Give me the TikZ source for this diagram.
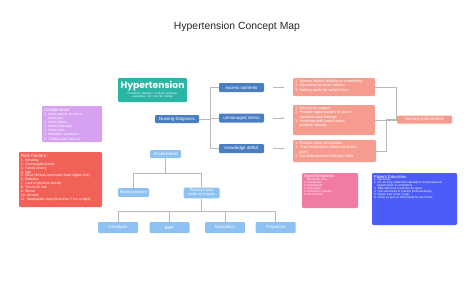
\documentclass[tikz,border=0pt]{standalone}
\usepackage{fontspec}
\setmainfont{Liberation Sans}
\newfontfamily\popfont{Poppins}
\usetikzlibrary{arrows.meta,positioning,calc}
\definecolor{teal1}{HTML}{2AB5A5}
\definecolor{steel}{HTML}{4A7EC2}
\definecolor{salm}{HTML}{F69C8F}
\definecolor{sky}{HTML}{8DC1F2}
\definecolor{lilac}{HTML}{D7A1F2}
\definecolor{coral}{HTML}{F26157}
\definecolor{pinkc}{HTML}{F27BA6}
\definecolor{indigo}{HTML}{4B5DF6}
\definecolor{gline}{HTML}{B8B8B8}
\newcommand{\fs}[2]{\fontsize{#1}{#2}\selectfont}
\newcommand{\ind}{\phantom{0.\ }}
\newcommand{\listbox}[3]{\parbox[c][#2][t]{#1}{\raggedright #3}}

\begin{document}
\begin{tikzpicture}[x=0.75pt, y=-0.75pt,
  box/.style={rounded corners=0.8pt, align=center, text=white, inner sep=1pt,
    font=\fs{3.3}{3.7}},
  dx/.style={box, fill=steel, minimum width=33.75pt, minimum height=6.75pt},
  lab/.style={box, fill=sky, minimum width=30pt, minimum height=8.25pt},
  plan/.style={box, fill=salm, inner sep=1.5pt, align=left, font=\fs{2.9}{3.1}},
  note/.style={rounded corners=0.8pt, text=white, inner sep=1.5pt, align=left},
  link/.style={draw=gline, line width=0.35pt},
  arr/.style={link, -{Latex[length=2pt,width=1.6pt]}}]
\useasboundingbox (0,0) rectangle (474,280);
\node[font=\fs{7.8}{9}, text=black!85] (title) at (237,27) {Hypertension Concept Map};
% core
\node[box, fill=teal1, minimum width=51.75pt, minimum height=18pt, text width=50pt,
  inner sep=0.8pt] (htn) at (152.5,90)
  {{\popfont\bfseries\fs{6.9}{7.4}Hypertension\par}
   {\fs{2.1}{2.4}Persistent elevation of blood pressure\\exceeding 140 over 90 mmHg\par}};
\node[dx, minimum width=33pt, minimum height=6pt] (ndx) at (177,119) {Nursing Diagnosis};
\node[dx] (exc) at (241.5,87.5) {excess nutrients};
\node[dx, below=15.75pt of exc] (stress) {unmanaged stress};
\node[dx, below=15.75pt of stress] (know) {knowledge deficit};
% interventions
\node[plan] (p1) at (334,87) {\listbox{58.5pt}{10.5pt}{%
  1. Assess factors leading to overeating\\
  2. Educating on food choices\\
  3. Setting goals for weight loss}};
\node[plan] (p2) at (334,120) {\listbox{58.5pt}{19.5pt}{%
  1. Emotional support\\
  2. Provide opportunities to share\\
  \ind concerns and feelings\\
  3. Assisting with constructive\\
  \ind problem solving}};
\node[plan] (p3) at (334.5,151) {\listbox{59.25pt}{13.5pt}{%
  1. Provide clear information\\
  2. Give information sheet and to the\\
  \ind point\\
  3. Consider patient's literacy skills}};
\node[box, fill=salm, minimum width=41.25pt, minimum height=6pt] (interv) at (424.5,119.5)
  {Nursing Intervention};
% side notes
\node[note, fill=lilac, font=\fs{2.6}{3.1}] (comp) at (72,124) {\listbox{42pt}{24pt}{%
  {\fs{3.3}{3.6}Complication\par}
  1. Heart attack, stroke or\\
  \ind aneurysm\\
  2. Heart failure\\
  3. Kidney damage\\
  4. Vision loss\\
  5. Metabolic syndrome\\
  6. Trouble with memory}};
\node[note, fill=coral, font=\fs{2.6}{2.95}] (risk) at (60.5,179.5) {\listbox{59.25pt}{38.25pt}{%
  {\fs{3.4}{3.8}Risk Factors :\par}
  1. Smoking\\
  2. Overweight/obesity\\
  3. Family history\\
  4. Age\\
  5. Race (African americans have higher risk)\\
  6. Diabetes\\
  7. Lack of physical activity\\
  8. Too much salt\\
  9. Stress\\
  10. Alcohol\\
  11. Inadequate sleep (less than 7 hrs a night)}};
\node[note, fill=pinkc, font=\fs{2.1}{2.2}] (signs) at (330,190.5) {\listbox{39pt}{23.25pt}{%
  {\fs{3}{3.4}Signs/Symptoms\par}
  \ind Most often none\\
  1. Headaches\\
  2. Nosebleeds\\
  3. Chest pain\\
  4. Shortness of breath\\
  5. Elevated BP}};
\node[note, fill=indigo, font=\fs{2.2}{2.15}] (edu) at (414.5,199) {\listbox{60.75pt}{36pt}{%
  {\fs{3.1}{3.4}Patient Education\par}
  1. Eat slowly\\
  2. Do not stop medication abruptly to avoid rebound\\
  \ind hypertension or arrhythmia\\
  3. Take with food to prevent GI upset\\
  4. Use sunscreen to prevent photosensitivity\\
  5. Report new onset cough\\
  6. Chew on gum or hard candy for dry mouth}};
% assessment tree
\node[lab, minimum width=23.25pt, minimum height=6pt] (assess) at (165.5,154) {Assessment};
\node[lab, minimum width=23.25pt, minimum height=6.4pt, font=\fs{3}{3.3}] (bp) at (133.5,192.5)
  {Blood pressure};
\node[lab, minimum width=27pt, minimum height=7.9pt, font=\fs{2.8}{2.9}] (strain) at (201.5,193)
  {Pressure puts\\strain on organs};
\node[lab] (ua) at (118,227.5) {Urinalysis};
\node[lab, right=8.25pt of ua] (bmp) {BMP};
\node[lab, right=11.25pt of bmp] (myo) {Myoglobin};
\node[lab, right=7.5pt of myo] (trop) {Troponins};
% connectors
\foreach \t in {exc,stress,know}
  \draw[link] (ndx.east) -- ($(ndx.east)+(11,0)$) |- (\t.west);
\foreach \a/\b in {exc/p1,stress/p2,know/p3}
  \draw[arr, shorten <=6.75pt, shorten >=6pt] (\a.east) -- (\a.east -| \b.west);
\draw[link] (p1.east) -| ($(interv.west)+(-1,0)$) -- (interv.west);
\draw[link] (p2.east) -- (p2.east -| interv.west);
\draw[link] (p3.east) -- ++(10,0) |- (interv.west);
\foreach \t in {bp,strain}
  \draw[link] (assess.south) -- ++(0,15) -| (\t.north);
\foreach \t in {ua,bmp,myo,trop}
  \draw[link] (strain.south) -- ++(0,12.75) -| (\t.north);
\end{tikzpicture}
\end{document}
